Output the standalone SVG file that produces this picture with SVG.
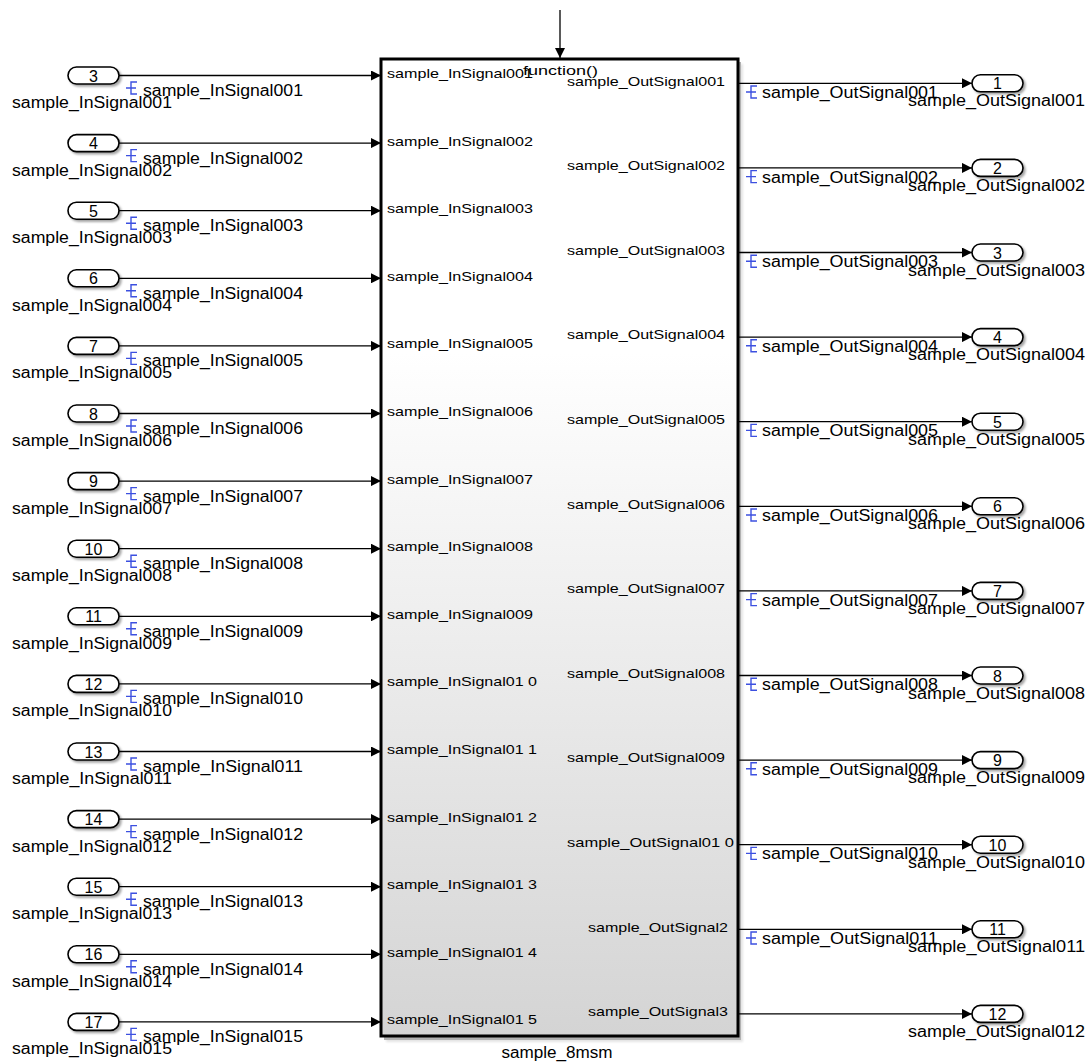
<svg xmlns="http://www.w3.org/2000/svg" width="1089" height="1062" viewBox="0 0 1089 1062">
<style>
.t{font-family:"Liberation Sans",Arial,sans-serif;fill:#000}
.lbl{font-size:16px}
.in{font-size:13px}
.num{font-size:16px;text-anchor:middle}
.pill{fill:#fff;stroke:#000;stroke-width:1.6;filter:url(#sh)}
.wire{stroke:#000;stroke-width:1.3;fill:none}
.ico{stroke:#3c50e0;stroke-width:1.4;fill:none}
</style>
<defs>
<linearGradient id="bg" x1="0" y1="0" x2="0" y2="1">
<stop offset="0" stop-color="#ffffff"/>
<stop offset="0.3" stop-color="#ffffff"/>
<stop offset="1" stop-color="#d4d4d4"/>
</linearGradient>
<filter id="sh" x="-20%" y="-20%" width="150%" height="160%">
<feDropShadow dx="2" dy="2" stdDeviation="1.2" flood-color="#000" flood-opacity="0.35"/>
</filter>
<marker id="ah" markerWidth="10" markerHeight="10" refX="10" refY="5" orient="auto" markerUnits="userSpaceOnUse">
<path d="M0,0 L10,5 L0,10 Z" fill="#000"/>
</marker>
<g id="icon"><path class="ico" d="M0,6 H5 M11,0 H5 V12 H11 M5,6 H10"/></g>
</defs>

<g id="connectors">
<line class="wire" x1="560" y1="10" x2="560" y2="58" marker-end="url(#ah)"/>
<line class="wire" x1="119" y1="75.5" x2="381" y2="75.5" marker-end="url(#ah)"/>
<line class="wire" x1="119" y1="143.1" x2="381" y2="143.1" marker-end="url(#ah)"/>
<line class="wire" x1="119" y1="210.7" x2="381" y2="210.7" marker-end="url(#ah)"/>
<line class="wire" x1="119" y1="278.3" x2="381" y2="278.3" marker-end="url(#ah)"/>
<line class="wire" x1="119" y1="345.9" x2="381" y2="345.9" marker-end="url(#ah)"/>
<line class="wire" x1="119" y1="413.5" x2="381" y2="413.5" marker-end="url(#ah)"/>
<line class="wire" x1="119" y1="481.1" x2="381" y2="481.1" marker-end="url(#ah)"/>
<line class="wire" x1="119" y1="548.7" x2="381" y2="548.7" marker-end="url(#ah)"/>
<line class="wire" x1="119" y1="616.3" x2="381" y2="616.3" marker-end="url(#ah)"/>
<line class="wire" x1="119" y1="683.9" x2="381" y2="683.9" marker-end="url(#ah)"/>
<line class="wire" x1="119" y1="751.5" x2="381" y2="751.5" marker-end="url(#ah)"/>
<line class="wire" x1="119" y1="819.1" x2="381" y2="819.1" marker-end="url(#ah)"/>
<line class="wire" x1="119" y1="886.7" x2="381" y2="886.7" marker-end="url(#ah)"/>
<line class="wire" x1="119" y1="954.3" x2="381" y2="954.3" marker-end="url(#ah)"/>
<line class="wire" x1="119" y1="1021.9" x2="381" y2="1021.9" marker-end="url(#ah)"/>
<line class="wire" x1="738" y1="83.3" x2="972" y2="83.3" marker-end="url(#ah)"/>
<line class="wire" x1="738" y1="167.9" x2="972" y2="167.9" marker-end="url(#ah)"/>
<line class="wire" x1="738" y1="252.5" x2="972" y2="252.5" marker-end="url(#ah)"/>
<line class="wire" x1="738" y1="337.1" x2="972" y2="337.1" marker-end="url(#ah)"/>
<line class="wire" x1="738" y1="421.7" x2="972" y2="421.7" marker-end="url(#ah)"/>
<line class="wire" x1="738" y1="506.3" x2="972" y2="506.3" marker-end="url(#ah)"/>
<line class="wire" x1="738" y1="590.9" x2="972" y2="590.9" marker-end="url(#ah)"/>
<line class="wire" x1="738" y1="675.5" x2="972" y2="675.5" marker-end="url(#ah)"/>
<line class="wire" x1="738" y1="760.1" x2="972" y2="760.1" marker-end="url(#ah)"/>
<line class="wire" x1="738" y1="844.7" x2="972" y2="844.7" marker-end="url(#ah)"/>
<line class="wire" x1="738" y1="929.3" x2="972" y2="929.3" marker-end="url(#ah)"/>
<line class="wire" x1="738" y1="1013.9" x2="972" y2="1013.9" marker-end="url(#ah)"/>
</g>

<g id="signal-labels">
<g transform="translate(126,82)"><use href="#icon"/></g><text class="t lbl" x="143" y="96" textLength="160" lengthAdjust="spacingAndGlyphs">sample_InSignal001</text>
<g transform="translate(126,149.6)"><use href="#icon"/></g><text class="t lbl" x="143" y="163.6" textLength="160" lengthAdjust="spacingAndGlyphs">sample_InSignal002</text>
<g transform="translate(126,217.2)"><use href="#icon"/></g><text class="t lbl" x="143" y="231.2" textLength="160" lengthAdjust="spacingAndGlyphs">sample_InSignal003</text>
<g transform="translate(126,284.8)"><use href="#icon"/></g><text class="t lbl" x="143" y="298.8" textLength="160" lengthAdjust="spacingAndGlyphs">sample_InSignal004</text>
<g transform="translate(126,352.4)"><use href="#icon"/></g><text class="t lbl" x="143" y="366.4" textLength="160" lengthAdjust="spacingAndGlyphs">sample_InSignal005</text>
<g transform="translate(126,420)"><use href="#icon"/></g><text class="t lbl" x="143" y="434" textLength="160" lengthAdjust="spacingAndGlyphs">sample_InSignal006</text>
<g transform="translate(126,487.6)"><use href="#icon"/></g><text class="t lbl" x="143" y="501.6" textLength="160" lengthAdjust="spacingAndGlyphs">sample_InSignal007</text>
<g transform="translate(126,555.2)"><use href="#icon"/></g><text class="t lbl" x="143" y="569.2" textLength="160" lengthAdjust="spacingAndGlyphs">sample_InSignal008</text>
<g transform="translate(126,622.8)"><use href="#icon"/></g><text class="t lbl" x="143" y="636.8" textLength="160" lengthAdjust="spacingAndGlyphs">sample_InSignal009</text>
<g transform="translate(126,690.4)"><use href="#icon"/></g><text class="t lbl" x="143" y="704.4" textLength="160" lengthAdjust="spacingAndGlyphs">sample_InSignal010</text>
<g transform="translate(126,758)"><use href="#icon"/></g><text class="t lbl" x="143" y="772" textLength="160" lengthAdjust="spacingAndGlyphs">sample_InSignal011</text>
<g transform="translate(126,825.6)"><use href="#icon"/></g><text class="t lbl" x="143" y="839.6" textLength="160" lengthAdjust="spacingAndGlyphs">sample_InSignal012</text>
<g transform="translate(126,893.2)"><use href="#icon"/></g><text class="t lbl" x="143" y="907.2" textLength="160" lengthAdjust="spacingAndGlyphs">sample_InSignal013</text>
<g transform="translate(126,960.8)"><use href="#icon"/></g><text class="t lbl" x="143" y="974.8" textLength="160" lengthAdjust="spacingAndGlyphs">sample_InSignal014</text>
<g transform="translate(126,1028.4)"><use href="#icon"/></g><text class="t lbl" x="143" y="1042.4" textLength="160" lengthAdjust="spacingAndGlyphs">sample_InSignal015</text>

<g transform="translate(746,86)"><use href="#icon"/></g><text class="t lbl" x="762" y="98" textLength="176" lengthAdjust="spacingAndGlyphs">sample_OutSignal001</text>
<g transform="translate(746,170.6)"><use href="#icon"/></g><text class="t lbl" x="762" y="182.6" textLength="176" lengthAdjust="spacingAndGlyphs">sample_OutSignal002</text>
<g transform="translate(746,255.2)"><use href="#icon"/></g><text class="t lbl" x="762" y="267.2" textLength="176" lengthAdjust="spacingAndGlyphs">sample_OutSignal003</text>
<g transform="translate(746,339.8)"><use href="#icon"/></g><text class="t lbl" x="762" y="351.8" textLength="176" lengthAdjust="spacingAndGlyphs">sample_OutSignal004</text>
<g transform="translate(746,424.4)"><use href="#icon"/></g><text class="t lbl" x="762" y="436.4" textLength="176" lengthAdjust="spacingAndGlyphs">sample_OutSignal005</text>
<g transform="translate(746,509)"><use href="#icon"/></g><text class="t lbl" x="762" y="521" textLength="176" lengthAdjust="spacingAndGlyphs">sample_OutSignal006</text>
<g transform="translate(746,593.6)"><use href="#icon"/></g><text class="t lbl" x="762" y="605.6" textLength="176" lengthAdjust="spacingAndGlyphs">sample_OutSignal007</text>
<g transform="translate(746,678.2)"><use href="#icon"/></g><text class="t lbl" x="762" y="690.2" textLength="176" lengthAdjust="spacingAndGlyphs">sample_OutSignal008</text>
<g transform="translate(746,762.8)"><use href="#icon"/></g><text class="t lbl" x="762" y="774.8" textLength="176" lengthAdjust="spacingAndGlyphs">sample_OutSignal009</text>
<g transform="translate(746,847.4)"><use href="#icon"/></g><text class="t lbl" x="762" y="859.4" textLength="176" lengthAdjust="spacingAndGlyphs">sample_OutSignal010</text>
<g transform="translate(746,932)"><use href="#icon"/></g><text class="t lbl" x="762" y="944" textLength="176" lengthAdjust="spacingAndGlyphs">sample_OutSignal011</text>
</g>

<g id="subsystem">
<rect x="384" y="62" width="357" height="978" fill="#000" opacity="0.3" filter="url(#sh)"/>
<rect x="381" y="59" width="357" height="977" fill="url(#bg)" stroke="#000" stroke-width="3"/>
<g class="t in">
<text x="387" y="78" textLength="146" lengthAdjust="spacingAndGlyphs">sample_InSignal001</text>
<text x="387" y="145.6" textLength="146" lengthAdjust="spacingAndGlyphs">sample_InSignal002</text>
<text x="387" y="213.2" textLength="146" lengthAdjust="spacingAndGlyphs">sample_InSignal003</text>
<text x="387" y="280.8" textLength="146" lengthAdjust="spacingAndGlyphs">sample_InSignal004</text>
<text x="387" y="348.4" textLength="146" lengthAdjust="spacingAndGlyphs">sample_InSignal005</text>
<text x="387" y="416" textLength="146" lengthAdjust="spacingAndGlyphs">sample_InSignal006</text>
<text x="387" y="483.6" textLength="146" lengthAdjust="spacingAndGlyphs">sample_InSignal007</text>
<text x="387" y="551.2" textLength="146" lengthAdjust="spacingAndGlyphs">sample_InSignal008</text>
<text x="387" y="618.8" textLength="146" lengthAdjust="spacingAndGlyphs">sample_InSignal009</text>
<text x="387" y="686.4" textLength="150" lengthAdjust="spacingAndGlyphs">sample_InSignal01 0</text>
<text x="387" y="754" textLength="150" lengthAdjust="spacingAndGlyphs">sample_InSignal01 1</text>
<text x="387" y="821.6" textLength="150" lengthAdjust="spacingAndGlyphs">sample_InSignal01 2</text>
<text x="387" y="889.2" textLength="150" lengthAdjust="spacingAndGlyphs">sample_InSignal01 3</text>
<text x="387" y="956.8" textLength="150" lengthAdjust="spacingAndGlyphs">sample_InSignal01 4</text>
<text x="387" y="1024.4" textLength="150" lengthAdjust="spacingAndGlyphs">sample_InSignal01 5</text>
<text x="523" y="75" textLength="75" lengthAdjust="spacingAndGlyphs">function()</text>
<text x="567" y="85.5" textLength="158" lengthAdjust="spacingAndGlyphs">sample_OutSignal001</text>
<text x="567" y="170.1" textLength="158" lengthAdjust="spacingAndGlyphs">sample_OutSignal002</text>
<text x="567" y="254.7" textLength="158" lengthAdjust="spacingAndGlyphs">sample_OutSignal003</text>
<text x="567" y="339.3" textLength="158" lengthAdjust="spacingAndGlyphs">sample_OutSignal004</text>
<text x="567" y="423.9" textLength="158" lengthAdjust="spacingAndGlyphs">sample_OutSignal005</text>
<text x="567" y="508.5" textLength="158" lengthAdjust="spacingAndGlyphs">sample_OutSignal006</text>
<text x="567" y="593.1" textLength="158" lengthAdjust="spacingAndGlyphs">sample_OutSignal007</text>
<text x="567" y="677.7" textLength="158" lengthAdjust="spacingAndGlyphs">sample_OutSignal008</text>
<text x="567" y="762.3" textLength="158" lengthAdjust="spacingAndGlyphs">sample_OutSignal009</text>
<text x="567" y="846.9" textLength="167" lengthAdjust="spacingAndGlyphs">sample_OutSignal01 0</text>
<text x="588" y="931.5" textLength="140" lengthAdjust="spacingAndGlyphs">sample_OutSignal2</text>
<text x="588" y="1016.1" textLength="140" lengthAdjust="spacingAndGlyphs">sample_OutSignal3</text>
</g>
<text class="t lbl" x="557" y="1058" text-anchor="middle" textLength="111" lengthAdjust="spacingAndGlyphs">sample_8msm</text>
</g>

<g id="inports">
<g id="in1"><rect class="pill" x="68" y="67" width="51" height="17" rx="8.5"/><text class="t num" x="93.5" y="81.5">3</text><text class="t lbl" x="12" y="108" textLength="160" lengthAdjust="spacingAndGlyphs">sample_InSignal001</text></g>
<g id="in2"><rect class="pill" x="68" y="134.6" width="51" height="17" rx="8.5"/><text class="t num" x="93.5" y="149.1">4</text><text class="t lbl" x="12" y="175.6" textLength="160" lengthAdjust="spacingAndGlyphs">sample_InSignal002</text></g>
<g id="in3"><rect class="pill" x="68" y="202.2" width="51" height="17" rx="8.5"/><text class="t num" x="93.5" y="216.7">5</text><text class="t lbl" x="12" y="243.2" textLength="160" lengthAdjust="spacingAndGlyphs">sample_InSignal003</text></g>
<g id="in4"><rect class="pill" x="68" y="269.8" width="51" height="17" rx="8.5"/><text class="t num" x="93.5" y="284.3">6</text><text class="t lbl" x="12" y="310.8" textLength="160" lengthAdjust="spacingAndGlyphs">sample_InSignal004</text></g>
<g id="in5"><rect class="pill" x="68" y="337.4" width="51" height="17" rx="8.5"/><text class="t num" x="93.5" y="351.9">7</text><text class="t lbl" x="12" y="378.4" textLength="160" lengthAdjust="spacingAndGlyphs">sample_InSignal005</text></g>
<g id="in6"><rect class="pill" x="68" y="405" width="51" height="17" rx="8.5"/><text class="t num" x="93.5" y="419.5">8</text><text class="t lbl" x="12" y="446" textLength="160" lengthAdjust="spacingAndGlyphs">sample_InSignal006</text></g>
<g id="in7"><rect class="pill" x="68" y="472.6" width="51" height="17" rx="8.5"/><text class="t num" x="93.5" y="487.1">9</text><text class="t lbl" x="12" y="513.6" textLength="160" lengthAdjust="spacingAndGlyphs">sample_InSignal007</text></g>
<g id="in8"><rect class="pill" x="68" y="540.2" width="51" height="17" rx="8.5"/><text class="t num" x="93.5" y="554.7">10</text><text class="t lbl" x="12" y="581.2" textLength="160" lengthAdjust="spacingAndGlyphs">sample_InSignal008</text></g>
<g id="in9"><rect class="pill" x="68" y="607.8" width="51" height="17" rx="8.5"/><text class="t num" x="93.5" y="622.3">11</text><text class="t lbl" x="12" y="648.8" textLength="160" lengthAdjust="spacingAndGlyphs">sample_InSignal009</text></g>
<g id="in10"><rect class="pill" x="68" y="675.4" width="51" height="17" rx="8.5"/><text class="t num" x="93.5" y="689.9">12</text><text class="t lbl" x="12" y="716.4" textLength="160" lengthAdjust="spacingAndGlyphs">sample_InSignal010</text></g>
<g id="in11"><rect class="pill" x="68" y="743" width="51" height="17" rx="8.5"/><text class="t num" x="93.5" y="757.5">13</text><text class="t lbl" x="12" y="784" textLength="160" lengthAdjust="spacingAndGlyphs">sample_InSignal011</text></g>
<g id="in12"><rect class="pill" x="68" y="810.6" width="51" height="17" rx="8.5"/><text class="t num" x="93.5" y="825.1">14</text><text class="t lbl" x="12" y="851.6" textLength="160" lengthAdjust="spacingAndGlyphs">sample_InSignal012</text></g>
<g id="in13"><rect class="pill" x="68" y="878.2" width="51" height="17" rx="8.5"/><text class="t num" x="93.5" y="892.7">15</text><text class="t lbl" x="12" y="919.2" textLength="160" lengthAdjust="spacingAndGlyphs">sample_InSignal013</text></g>
<g id="in14"><rect class="pill" x="68" y="945.8" width="51" height="17" rx="8.5"/><text class="t num" x="93.5" y="960.3">16</text><text class="t lbl" x="12" y="986.8" textLength="160" lengthAdjust="spacingAndGlyphs">sample_InSignal014</text></g>
<g id="in15"><rect class="pill" x="68" y="1013.4" width="51" height="17" rx="8.5"/><text class="t num" x="93.5" y="1027.9">17</text><text class="t lbl" x="12" y="1054.4" textLength="160" lengthAdjust="spacingAndGlyphs">sample_InSignal015</text></g>
</g>

<g id="outports">
<g id="out1"><rect class="pill" x="972" y="74.8" width="51" height="17" rx="8.5"/><text class="t num" x="997.5" y="89.3">1</text><text class="t lbl" x="908" y="106.3" textLength="177" lengthAdjust="spacingAndGlyphs">sample_OutSignal001</text></g>
<g id="out2"><rect class="pill" x="972" y="159.4" width="51" height="17" rx="8.5"/><text class="t num" x="997.5" y="173.9">2</text><text class="t lbl" x="908" y="190.9" textLength="177" lengthAdjust="spacingAndGlyphs">sample_OutSignal002</text></g>
<g id="out3"><rect class="pill" x="972" y="244" width="51" height="17" rx="8.5"/><text class="t num" x="997.5" y="258.5">3</text><text class="t lbl" x="908" y="275.5" textLength="177" lengthAdjust="spacingAndGlyphs">sample_OutSignal003</text></g>
<g id="out4"><rect class="pill" x="972" y="328.6" width="51" height="17" rx="8.5"/><text class="t num" x="997.5" y="343.1">4</text><text class="t lbl" x="908" y="360.1" textLength="177" lengthAdjust="spacingAndGlyphs">sample_OutSignal004</text></g>
<g id="out5"><rect class="pill" x="972" y="413.2" width="51" height="17" rx="8.5"/><text class="t num" x="997.5" y="427.7">5</text><text class="t lbl" x="908" y="444.7" textLength="177" lengthAdjust="spacingAndGlyphs">sample_OutSignal005</text></g>
<g id="out6"><rect class="pill" x="972" y="497.8" width="51" height="17" rx="8.5"/><text class="t num" x="997.5" y="512.3">6</text><text class="t lbl" x="908" y="529.3" textLength="177" lengthAdjust="spacingAndGlyphs">sample_OutSignal006</text></g>
<g id="out7"><rect class="pill" x="972" y="582.4" width="51" height="17" rx="8.5"/><text class="t num" x="997.5" y="596.9">7</text><text class="t lbl" x="908" y="613.9" textLength="177" lengthAdjust="spacingAndGlyphs">sample_OutSignal007</text></g>
<g id="out8"><rect class="pill" x="972" y="667" width="51" height="17" rx="8.5"/><text class="t num" x="997.5" y="681.5">8</text><text class="t lbl" x="908" y="698.5" textLength="177" lengthAdjust="spacingAndGlyphs">sample_OutSignal008</text></g>
<g id="out9"><rect class="pill" x="972" y="751.6" width="51" height="17" rx="8.5"/><text class="t num" x="997.5" y="766.1">9</text><text class="t lbl" x="908" y="783.1" textLength="177" lengthAdjust="spacingAndGlyphs">sample_OutSignal009</text></g>
<g id="out10"><rect class="pill" x="972" y="836.2" width="51" height="17" rx="8.5"/><text class="t num" x="997.5" y="850.7">10</text><text class="t lbl" x="908" y="867.7" textLength="177" lengthAdjust="spacingAndGlyphs">sample_OutSignal010</text></g>
<g id="out11"><rect class="pill" x="972" y="920.8" width="51" height="17" rx="8.5"/><text class="t num" x="997.5" y="935.3">11</text><text class="t lbl" x="908" y="952.3" textLength="177" lengthAdjust="spacingAndGlyphs">sample_OutSignal011</text></g>
<g id="out12"><rect class="pill" x="972" y="1005.4" width="51" height="17" rx="8.5"/><text class="t num" x="997.5" y="1019.9">12</text><text class="t lbl" x="908" y="1036.9" textLength="177" lengthAdjust="spacingAndGlyphs">sample_OutSignal012</text></g>
</g>
</svg>
